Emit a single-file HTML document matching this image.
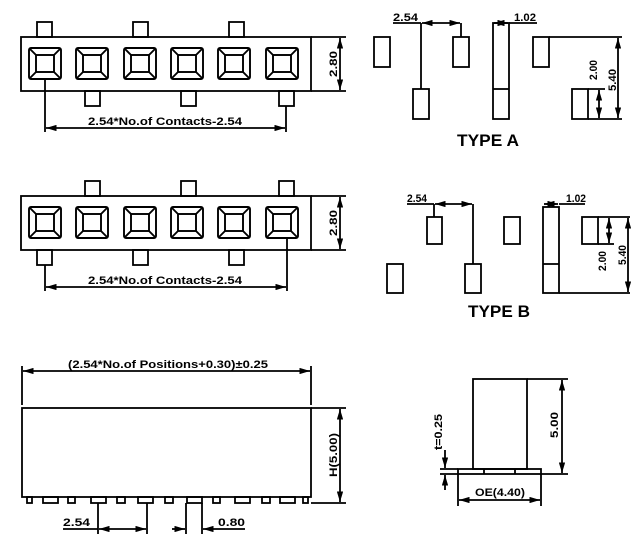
<!DOCTYPE html>
<html><head><meta charset="utf-8"><style>
html,body{margin:0;padding:0;background:#fff;}
svg{display:block;}
text{font-family:"Liberation Sans",sans-serif;font-weight:bold;fill:#000;}
</style></head><body>
<svg width="640" height="552" viewBox="0 0 640 552" xmlns="http://www.w3.org/2000/svg">
<defs>
<g id="sq" fill="none" stroke="#000" stroke-width="1.9">
<rect x="0" y="0" width="32" height="31" rx="2"/>
<rect x="7" y="7" width="18" height="17"/>
<path d="M1 1L7 7M31 1L25 7M1 30L7 24M31 30L25 24"/>
</g>
<marker id="ar" viewBox="0 0 10 6" refX="10" refY="3" markerWidth="6" markerHeight="3.5" orient="auto-start-reverse"><path d="M0 0L10 3L0 6z" fill="#000"/></marker>
</defs>
<g stroke="#000" stroke-width="1.8" fill="none">
<rect x="21" y="37" width="290" height="54"/>
<rect x="37" y="22" width="15" height="15"/><rect x="133" y="22" width="15" height="15"/><rect x="229" y="22" width="15" height="15"/>
<rect x="85" y="91" width="15" height="15"/><rect x="181" y="91" width="15" height="15"/><rect x="279" y="91" width="15" height="15"/>
<line x1="311" y1="37" x2="346" y2="37"/><line x1="311" y1="91" x2="346" y2="91"/>
<line x1="340" y1="38" x2="340" y2="90" marker-start="url(#ar)" marker-end="url(#ar)"/>
<line x1="45" y1="79" x2="45" y2="132"/><line x1="286" y1="106" x2="286" y2="132"/>
<line x1="46" y1="128" x2="285" y2="128" marker-start="url(#ar)" marker-end="url(#ar)"/>
<rect x="21" y="196" width="290" height="54"/>
<rect x="85" y="181" width="15" height="15"/><rect x="181" y="181" width="15" height="15"/><rect x="279" y="181" width="15" height="15"/>
<rect x="37" y="250" width="15" height="15"/><rect x="133" y="250" width="15" height="15"/><rect x="229" y="250" width="15" height="15"/>
<line x1="311" y1="196" x2="346" y2="196"/><line x1="311" y1="250" x2="346" y2="250"/>
<line x1="340" y1="197" x2="340" y2="249" marker-start="url(#ar)" marker-end="url(#ar)"/>
<line x1="45" y1="265" x2="45" y2="291"/><line x1="287" y1="238" x2="287" y2="291"/>
<line x1="46" y1="287" x2="286" y2="287" marker-start="url(#ar)" marker-end="url(#ar)"/>
<line x1="22" y1="366" x2="22" y2="405"/><line x1="311" y1="366" x2="311" y2="405"/>
<line x1="23" y1="371" x2="310" y2="371" marker-start="url(#ar)" marker-end="url(#ar)"/>
<rect x="22" y="408" width="289" height="89"/>
<g>
<rect x="27" y="497" width="5" height="6"/><rect x="43" y="497" width="15" height="6"/><rect x="68" y="497" width="7" height="6"/>
<rect x="91" y="497" width="15" height="6"/><rect x="117" y="497" width="8" height="6"/><rect x="138" y="497" width="15" height="6"/>
<rect x="165" y="497" width="8" height="6"/><rect x="187" y="497" width="15" height="6"/><rect x="213" y="497" width="7" height="6"/>
<rect x="235" y="497" width="15" height="6"/><rect x="262" y="497" width="8" height="6"/><rect x="280" y="497" width="15" height="6"/>
<rect x="303" y="497" width="5" height="6"/>
</g>
<line x1="311" y1="408" x2="346" y2="408"/><line x1="311" y1="503" x2="346" y2="503"/>
<line x1="340" y1="409" x2="340" y2="502" marker-start="url(#ar)" marker-end="url(#ar)"/>
<line x1="98" y1="503" x2="98" y2="534"/><line x1="147" y1="503" x2="147" y2="534"/>
<line x1="99" y1="529" x2="146" y2="529" marker-start="url(#ar)" marker-end="url(#ar)"/>
<line x1="63" y1="529" x2="98" y2="529"/>
<line x1="186" y1="503" x2="186" y2="534"/><line x1="202" y1="503" x2="202" y2="534"/>
<line x1="172" y1="529" x2="185" y2="529" marker-end="url(#ar)"/>
<line x1="245" y1="529" x2="203" y2="529" marker-end="url(#ar)"/>
<rect x="473" y="379" width="54" height="90"/>
<rect x="458" y="469" width="83" height="5"/>
<line x1="484" y1="469" x2="484" y2="474"/><line x1="515" y1="469" x2="515" y2="474"/>
<line x1="527" y1="379" x2="568" y2="379"/><line x1="541" y1="474" x2="568" y2="474"/>
<line x1="562" y1="380" x2="562" y2="473" marker-start="url(#ar)" marker-end="url(#ar)"/>
<line x1="440" y1="469" x2="458" y2="469"/><line x1="440" y1="474" x2="458" y2="474"/>
<line x1="445" y1="450" x2="445" y2="468" marker-end="url(#ar)"/>
<line x1="445" y1="490" x2="445" y2="475" marker-end="url(#ar)"/>
<line x1="458" y1="474" x2="458" y2="506"/><line x1="541" y1="474" x2="541" y2="506"/>
<line x1="459" y1="500" x2="540" y2="500" marker-start="url(#ar)" marker-end="url(#ar)"/>
<rect x="374" y="37" width="16" height="30"/><rect x="453" y="37" width="16" height="30"/>
<rect x="413" y="89" width="16" height="30"/>
<line x1="421" y1="23" x2="421" y2="89"/><line x1="461" y1="23" x2="461" y2="37"/>
<line x1="422" y1="23" x2="460" y2="23" marker-start="url(#ar)" marker-end="url(#ar)"/>
<line x1="393" y1="23" x2="421" y2="23"/>
<rect x="493" y="23" width="16" height="96"/><line x1="493" y1="89" x2="509" y2="89"/>
<line x1="494" y1="23" x2="508" y2="23" marker-start="url(#ar)" marker-end="url(#ar)"/>
<line x1="509" y1="23" x2="537" y2="23"/>
<rect x="533" y="37" width="16" height="30"/><line x1="549" y1="37" x2="622" y2="37"/>
<rect x="572" y="89" width="16" height="30"/><line x1="588" y1="89" x2="605" y2="89"/><line x1="588" y1="119" x2="622" y2="119"/>
<line x1="599" y1="90" x2="599" y2="118" marker-start="url(#ar)" marker-end="url(#ar)"/>
<line x1="618" y1="38" x2="618" y2="118" marker-start="url(#ar)" marker-end="url(#ar)"/>
<rect x="427" y="217" width="15" height="27"/><rect x="504" y="217" width="16" height="27"/>
<rect x="387" y="264" width="16" height="29"/><rect x="465" y="264" width="16" height="29"/>
<line x1="434" y1="204" x2="434" y2="217"/><line x1="473" y1="204" x2="473" y2="264"/>
<line x1="435" y1="204" x2="472" y2="204" marker-start="url(#ar)" marker-end="url(#ar)"/>
<line x1="407" y1="204" x2="434" y2="204"/>
<rect x="543" y="207" width="16" height="86"/><line x1="543" y1="264" x2="559" y2="264"/>
<line x1="544" y1="204" x2="558" y2="204" marker-start="url(#ar)" marker-end="url(#ar)"/>
<line x1="559" y1="204" x2="585" y2="204"/>
<rect x="582" y="217" width="16" height="27"/><line x1="598" y1="217" x2="630" y2="217"/>
<line x1="598" y1="244" x2="614" y2="244"/><line x1="559" y1="293" x2="630" y2="293"/>
<line x1="609" y1="218" x2="609" y2="243" marker-start="url(#ar)" marker-end="url(#ar)"/>
<line x1="628" y1="218" x2="628" y2="292" marker-start="url(#ar)" marker-end="url(#ar)"/>
</g>
<g>
<use href="#sq" x="29" y="48"/><use href="#sq" x="76" y="48"/><use href="#sq" x="124" y="48"/>
<use href="#sq" x="171" y="48"/><use href="#sq" x="218" y="48"/><use href="#sq" x="266" y="48"/>
<use href="#sq" x="29" y="207"/><use href="#sq" x="76" y="207"/><use href="#sq" x="124" y="207"/>
<use href="#sq" x="171" y="207"/><use href="#sq" x="218" y="207"/><use href="#sq" x="266" y="207"/>
</g>
<g font-size="11">
<text x="88" y="125" textLength="154" lengthAdjust="spacingAndGlyphs">2.54*No.of  Contacts-2.54</text>
<text x="88" y="284" textLength="154" lengthAdjust="spacingAndGlyphs">2.54*No.of  Contacts-2.54</text>
<text transform="translate(337,64) rotate(-90)" text-anchor="middle" textLength="26" lengthAdjust="spacingAndGlyphs">2.80</text>
<text transform="translate(337,223) rotate(-90)" text-anchor="middle" textLength="26" lengthAdjust="spacingAndGlyphs">2.80</text>
<text x="68" y="368" textLength="200" lengthAdjust="spacingAndGlyphs">(2.54*No.of  Positions+0.30)±0.25</text>
<text transform="translate(337,455) rotate(-90)" text-anchor="middle" textLength="44" lengthAdjust="spacingAndGlyphs">H(5.00)</text>
<text x="63" y="526" textLength="27" lengthAdjust="spacingAndGlyphs">2.54</text>
<text x="218" y="526" textLength="27" lengthAdjust="spacingAndGlyphs">0.80</text>
<text transform="translate(558,425) rotate(-90)" text-anchor="middle" textLength="26" lengthAdjust="spacingAndGlyphs">5.00</text>
<text transform="translate(442,432) rotate(-90)" text-anchor="middle" textLength="36" lengthAdjust="spacingAndGlyphs">t=0.25</text>
<text x="475" y="496" textLength="50" lengthAdjust="spacingAndGlyphs">OE(4.40)</text>
<text x="393" y="21" textLength="25" lengthAdjust="spacingAndGlyphs">2.54</text>
<text x="514" y="21" textLength="22" lengthAdjust="spacingAndGlyphs">1.02</text>
<text transform="translate(597,70) rotate(-90)" text-anchor="middle" textLength="20" lengthAdjust="spacingAndGlyphs">2.00</text>
<text transform="translate(616,80) rotate(-90)" text-anchor="middle" textLength="22" lengthAdjust="spacingAndGlyphs">5.40</text>
<text x="407" y="202" textLength="20" lengthAdjust="spacingAndGlyphs">2.54</text>
<text x="566" y="202" textLength="20" lengthAdjust="spacingAndGlyphs">1.02</text>
<text transform="translate(606,261) rotate(-90)" text-anchor="middle" textLength="20" lengthAdjust="spacingAndGlyphs">2.00</text>
<text transform="translate(626,255) rotate(-90)" text-anchor="middle" textLength="20" lengthAdjust="spacingAndGlyphs">5.40</text>
</g>
<text x="457" y="146" font-size="17" textLength="62" lengthAdjust="spacingAndGlyphs">TYPE  A</text>
<text x="468" y="317" font-size="17" textLength="62" lengthAdjust="spacingAndGlyphs">TYPE  B</text>
</svg>
</body></html>
